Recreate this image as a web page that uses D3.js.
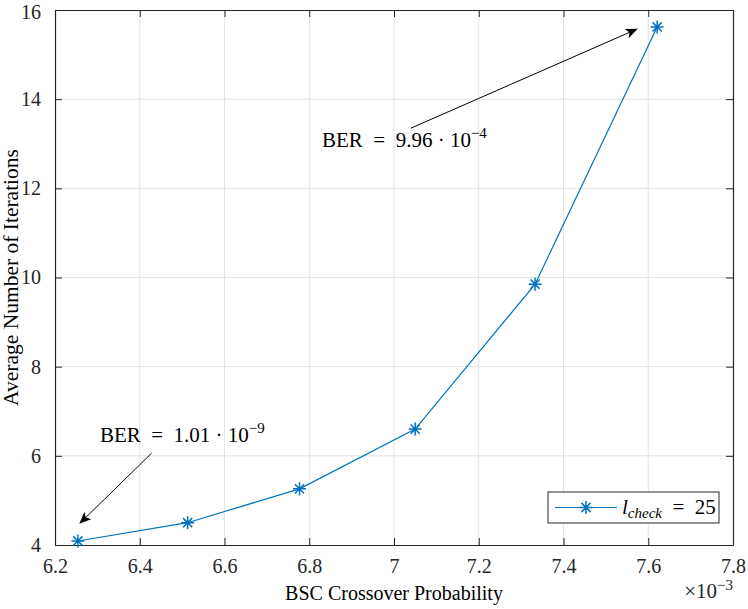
<!DOCTYPE html>
<html>
<head>
<meta charset="utf-8">
<script src="https://cdn.jsdelivr.net/npm/d3@7"></script>
<style>
  body { margin: 0; background: #fff; }
  svg { display: block; }
</style>
</head>
<body>
<div id="chart"></div>
<script>

// Data (x in units of 1e-3)
var crossover = [6.254, 6.513, 6.777, 7.050, 7.333, 7.621];
var iterations = [4.09, 4.50, 5.26, 6.60, 9.85, 15.62];

var x_ticks = [6.2, 6.4, 6.6, 6.8, 7, 7.2, 7.4, 7.6, 7.8];
var y_ticks = [4, 6, 8, 10, 12, 14, 16];

// annotations: [x0, y0, x1, y1] in data units, arrow from (x0,y0) to (x1,y1)
var arrow_low = [6.428, 6.06, 6.259, 4.49];
var arrow_high = [7.040, 13.35, 7.573, 15.57];
var label_low = { x: 6.306, y: 6.30, mant: '1.01', exp: '\u22129' };
var label_high = { x: 6.830, y: 12.93, mant: '9.96', exp: '\u22124' };

var W = 748, H = 609;
var margin = {top: 10, right: 15, bottom: 64, left: 55};
var width = W - margin.left - margin.right;
var height = H - margin.top - margin.bottom;

var blue = '#0072BD';
var axis_color = '#262626';
var serif = "'Liberation Serif', 'Times New Roman', serif";
var sp = '\u2002';

var x = d3.scaleLinear().domain( [6.2, 7.8] ).range( [0, width] );
var y = d3.scaleLinear().domain( [4, 16] ).range( [height, 0] );

var svg = d3.select( '#chart' )
            .append( 'svg' )
            .attr( 'width', W )
            .attr( 'height', H );

svg.append( 'defs' ).append( 'marker' )
    .attr( 'id', 'arrowhead' )
    .attr( 'viewBox', '0 0 12 10' )
    .attr( 'refX', 11 )
    .attr( 'refY', 5 )
    .attr( 'markerWidth', 12 )
    .attr( 'markerHeight', 10 )
    .attr( 'markerUnits', 'userSpaceOnUse' )
    .attr( 'orient', 'auto' )
    .append( 'path' )
    .attr( 'd', 'M0,0 L12,5 L0,10 L3,5 Z' )
    .attr( 'fill', '#000' );

var g = svg.append( 'g' )
           .attr( 'transform', 'translate(' + margin.left + ',' + margin.top + ')' );

// Grid
g.append( 'g' )
    .selectAll( 'line' )
    .data( x_ticks.slice( 1, -1 ) ).enter()
    .append( 'line' )
    .attr( 'x1', function ( d ) { return x( d ); } )
    .attr( 'x2', function ( d ) { return x( d ); } )
    .attr( 'y1', 0 )
    .attr( 'y2', height )
    .attr( 'stroke', '#e3e3e3' )
    .attr( 'stroke-width', 1 );

g.append( 'g' )
    .selectAll( 'line' )
    .data( y_ticks.slice( 1, -1 ) ).enter()
    .append( 'line' )
    .attr( 'y1', function ( d ) { return y( d ); } )
    .attr( 'y2', function ( d ) { return y( d ); } )
    .attr( 'x1', 0 )
    .attr( 'x2', width )
    .attr( 'stroke', '#e3e3e3' )
    .attr( 'stroke-width', 1 );

// Axes (ticks inside, on all four sides)
var fmt = function ( d ) { return d3.format( '' )( d ); };

var xb = g.append( 'g' )
    .attr( 'transform', 'translate(0,' + height + ')' )
    .call( d3.axisBottom( x ).tickValues( x_ticks ).tickFormat( fmt ).tickSizeInner( -7 ).tickSizeOuter( 0 ).tickPadding( 14 ) );

var xt = g.append( 'g' )
    .call( d3.axisTop( x ).tickValues( x_ticks ).tickFormat( '' ).tickSizeInner( -7 ).tickSizeOuter( 0 ) );

var yl = g.append( 'g' )
    .call( d3.axisLeft( y ).tickValues( y_ticks ).tickSizeInner( -7 ).tickSizeOuter( 0 ).tickPadding( 14 ) );

var yr = g.append( 'g' )
    .attr( 'transform', 'translate(' + width + ',0)' )
    .call( d3.axisRight( y ).tickValues( y_ticks ).tickFormat( '' ).tickSizeInner( -7 ).tickSizeOuter( 0 ) );

[xb, xt, yl, yr].forEach( function ( a ) {
    a.attr( 'font-family', serif ).attr( 'font-size', 20 );
    a.selectAll( 'path, line' ).attr( 'stroke', axis_color );
    a.selectAll( 'text' ).attr( 'fill', axis_color );
    a.select( '.domain' ).attr( 'stroke-width', 1.2 );
} );

// keep the top label inside the picture
yl.selectAll( '.tick text' ).attr( 'dy', function ( d ) { return d === 16 ? '0.42em' : '0.32em'; } );

// Exponent label
var exp_label = g.append( 'text' )
    .attr( 'x', width )
    .attr( 'y', height + 53 )
    .attr( 'text-anchor', 'end' )
    .attr( 'font-family', serif )
    .attr( 'font-size', 21 )
    .attr( 'fill', axis_color );
exp_label.append( 'tspan' ).text( '\u00d710' );
exp_label.append( 'tspan' ).attr( 'dy', -8 ).attr( 'font-size', 15 ).text( '\u22123' );

// Axis labels
g.append( 'text' )
    .attr( 'x', width / 2 )
    .attr( 'y', height + 55 )
    .attr( 'text-anchor', 'middle' )
    .attr( 'font-family', serif )
    .attr( 'font-size', 20 )
    .attr( 'fill', '#000' )
    .text( 'BSC Crossover Probability' );

g.append( 'text' )
    .attr( 'transform', 'rotate(-90)' )
    .attr( 'x', -height / 2 )
    .attr( 'y', -37 )
    .attr( 'text-anchor', 'middle' )
    .attr( 'font-family', serif )
    .attr( 'font-size', 21.5 )
    .attr( 'fill', '#000' )
    .text( 'Average Number of Iterations' );

// Data line
var data = d3.zip( crossover, iterations );

var line = d3.line()
             .x( function ( d ) { return x( d[0] ); } )
             .y( function ( d ) { return y( d[1] ); } );

g.append( 'path' )
    .datum( data )
    .attr( 'd', line )
    .attr( 'fill', 'none' )
    .attr( 'stroke', blue )
    .attr( 'stroke-width', 1.2 );

var star = function ( sel, r ) {
    var d = '';
    for ( var i = 0; i < 4; ++i ) {
        var a = i * Math.PI / 4;
        var dx = r * Math.sin( a ), dy = r * Math.cos( a );
        d += 'M' + (-dx) + ',' + (-dy) + 'L' + dx + ',' + dy;
    }
    sel.append( 'path' )
        .attr( 'd', d )
        .attr( 'stroke', blue )
        .attr( 'stroke-width', 1.5 )
        .attr( 'fill', 'none' );
};

g.selectAll( '.pt' )
    .data( data ).enter()
    .append( 'g' )
    .attr( 'class', 'pt' )
    .attr( 'transform', function ( d ) { return 'translate(' + x( d[0] ) + ',' + y( d[1] ) + ')'; } )
    .each( function () { star( d3.select( this ), 6.5 ); } );

// Annotations
[arrow_low, arrow_high].forEach( function ( a ) {
    g.append( 'line' )
        .attr( 'x1', x( a[0] ) )
        .attr( 'y1', y( a[1] ) )
        .attr( 'x2', x( a[2] ) )
        .attr( 'y2', y( a[3] ) )
        .attr( 'stroke', '#000' )
        .attr( 'stroke-width', 1 )
        .attr( 'marker-end', 'url(#arrowhead)' );
} );

[label_low, label_high].forEach( function ( l ) {
    var t = g.append( 'text' )
        .attr( 'x', x( l.x ) )
        .attr( 'y', y( l.y ) )
        .attr( 'font-family', serif )
        .attr( 'font-size', 21 )
        .attr( 'fill', '#000' );
    t.append( 'tspan' ).text( 'BER' + sp + '=' + sp + l.mant + ' \u00b7 10' );
    t.append( 'tspan' ).attr( 'dy', -9 ).attr( 'font-size', 15 ).text( l.exp );
} );

// Legend
var lg = g.append( 'g' )
    .attr( 'transform', 'translate(' + (width - 185) + ',' + (height - 53) + ')' );

lg.append( 'rect' )
    .attr( 'width', 171 )
    .attr( 'height', 31 )
    .attr( 'fill', '#fff' )
    .attr( 'stroke', axis_color )
    .attr( 'stroke-width', 1 );

lg.append( 'line' )
    .attr( 'x1', 7 )
    .attr( 'x2', 69 )
    .attr( 'y1', 15.5 )
    .attr( 'y2', 15.5 )
    .attr( 'stroke', blue )
    .attr( 'stroke-width', 1.2 );

var lstar = lg.append( 'g' ).attr( 'transform', 'translate(38,15.5)' );
star( lstar, 6.5 );

var lt = lg.append( 'text' )
    .attr( 'x', 74 )
    .attr( 'y', 22 )
    .attr( 'font-family', serif )
    .attr( 'font-size', 21 )
    .attr( 'fill', '#000' );
lt.append( 'tspan' ).attr( 'font-style', 'italic' ).text( 'l' );
lt.append( 'tspan' ).attr( 'font-style', 'italic' ).attr( 'font-size', 15 ).attr( 'dy', 4 ).text( 'check' );
lt.append( 'tspan' ).attr( 'dy', -4 ).text( sp + '=' + sp + '25' );

</script>
</body>
</html>
